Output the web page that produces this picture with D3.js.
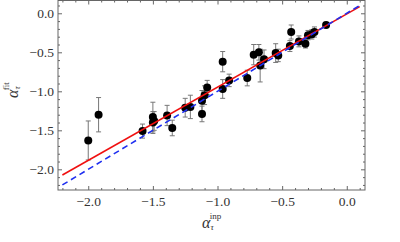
<!DOCTYPE html>
<html>
<head>
<script src="https://cdnjs.cloudflare.com/ajax/libs/d3/7.8.5/d3.min.js"></script>
<style>
  body { margin: 0; background: #fff; }
  svg { display: block; }
  .tick text { font-family: "Liberation Serif", "DejaVu Serif", serif; font-size: 13.5px; fill: #333; }
</style>
</head>
<body>
<svg id="chart" width="400" height="242"></svg>
<script>
// measured points: input alpha, fitted alpha, error
var alphaInp = [-2.00, -1.92, -1.58, -1.50, -1.50, -1.49, -1.39, -1.35, -1.25, -1.21, -1.12, -1.12, -1.10, -1.08,
                -0.96, -0.96, -0.91, -0.77, -0.72, -0.68, -0.67, -0.64, -0.55, -0.53, -0.44, -0.43, -0.37, -0.32,
                -0.30, -0.27, -0.25, -0.16];
var alphaFit = [-1.63, -1.30, -1.51, -1.33, -1.40, -1.38, -1.31, -1.47, -1.21, -1.20, -1.29, -1.12, -1.05, -0.95,
                -0.62, -0.97, -0.86, -0.83, -0.53, -0.50, -0.67, -0.59, -0.51, -0.54, -0.42, -0.24, -0.36, -0.39,
                -0.28, -0.27, -0.24, -0.15];
var alphaErr = [0.25, 0.22, 0.09, 0.19, 0.14, 0.12, 0.13, 0.10, 0.12, 0.15, 0.10, 0.13, 0.12, 0.09,
                0.13, 0.12, 0.08, 0.10, 0.13, 0.10, 0.21, 0.12, 0.12, 0.08, 0.07, 0.09, 0.07, 0.055,
                0.06, 0.06, 0.065, 0.03];
// fitted line and identity line (end points)
var lineX = [-2.2, 0.1];
var fitLineY = [-2.073, 0.085];
var idLineY = [-2.2, 0.1];
var majorTicks = [-2.0, -1.5, -1.0, -0.5, 0.0];

var svg = d3.select("#chart");
var x = d3.scaleLinear().domain([-2.234, 0.141]).range([58, 365]);
var y = d3.scaleLinear().domain([-2.265, 0.164]).range([190, 0.5]);

var minorTicks = d3.range(-22, 2).map(function(d) { return d / 10; })
  .filter(function(d) { return Math.abs(d * 2 - Math.round(d * 2)) > 1e-6; });

function axisStyle(g) {
  g.select(".domain").remove();
  g.selectAll(".tick line").attr("stroke", "#666");
}

// major ticks with labels
svg.append("g").attr("transform", "translate(0,190)")
  .call(d3.axisBottom(x).tickValues(majorTicks).tickFormat(d3.format(".1f")).tickSize(-4).tickPadding(6))
  .call(axisStyle);
svg.append("g").attr("transform", "translate(58,0)")
  .call(d3.axisLeft(y).tickValues(majorTicks).tickFormat(d3.format(".1f")).tickSize(-4).tickPadding(4))
  .call(axisStyle);
svg.append("g").attr("transform", "translate(0,0.5)")
  .call(d3.axisTop(x).tickValues(majorTicks).tickFormat("").tickSize(-4))
  .call(axisStyle);
svg.append("g").attr("transform", "translate(365,0)")
  .call(d3.axisRight(y).tickValues(majorTicks).tickFormat("").tickSize(-4))
  .call(axisStyle);
// minor ticks
svg.append("g").attr("transform", "translate(0,190)")
  .call(d3.axisBottom(x).tickValues(minorTicks.filter(function(d) { return d > -2.23; })).tickFormat("").tickSize(-2))
  .call(axisStyle);
svg.append("g").attr("transform", "translate(0,0.5)")
  .call(d3.axisTop(x).tickValues(minorTicks.filter(function(d) { return d > -2.23; })).tickFormat("").tickSize(-2))
  .call(axisStyle);
svg.append("g").attr("transform", "translate(58,0)")
  .call(d3.axisLeft(y).tickValues(minorTicks).tickFormat("").tickSize(-2))
  .call(axisStyle);
svg.append("g").attr("transform", "translate(365,0)")
  .call(d3.axisRight(y).tickValues(minorTicks).tickFormat("").tickSize(-2))
  .call(axisStyle);

// frame
svg.append("rect")
  .attr("x", 58).attr("y", 0.5).attr("width", 307).attr("height", 189.5)
  .attr("fill", "none").attr("stroke", "#666").attr("stroke-width", 1);

// error bars
var eb = svg.append("g").attr("stroke", "#777").attr("stroke-width", 1);
alphaInp.forEach(function(v, i) {
  var cx = x(v), top = y(alphaFit[i] + alphaErr[i]), bot = y(alphaFit[i] - alphaErr[i]);
  eb.append("line").attr("x1", cx).attr("x2", cx).attr("y1", top).attr("y2", bot);
  eb.append("line").attr("x1", cx - 2.5).attr("x2", cx + 2.5).attr("y1", top).attr("y2", top);
  eb.append("line").attr("x1", cx - 2.5).attr("x2", cx + 2.5).attr("y1", bot).attr("y2", bot);
});

// points
svg.append("g").selectAll("circle")
  .data(alphaInp)
  .enter().append("circle")
  .attr("cx", function(d) { return x(d); })
  .attr("cy", function(d, i) { return y(alphaFit[i]); })
  .attr("r", 4)
  .attr("fill", "#000");

// lines
var line = d3.line().x(function(d) { return x(d[0]); }).y(function(d) { return y(d[1]); });
svg.append("path")
  .attr("d", line(d3.zip(lineX, fitLineY)))
  .attr("stroke", "#f01010").attr("stroke-width", 1.6).attr("fill", "none");
svg.append("path")
  .attr("d", line(d3.zip(lineX, idLineY)))
  .attr("stroke", "#1f2ff0").attr("stroke-width", 1.6).attr("stroke-dasharray", "6,4").attr("fill", "none");

// axis labels
var xl = svg.append("text")
  .attr("x", 202).attr("y", 228)
  .attr("font-family", "Liberation Serif, serif").attr("fill", "#333");
xl.append("tspan").attr("font-style", "italic").attr("font-size", 16).text("α");
xl.append("tspan").attr("font-style", "italic").attr("font-size", 9).attr("dy", 2).text("τ");
xl.append("tspan").attr("font-size", 9).attr("dx", -4).attr("dy", -11).text("inp");

var yl = svg.append("text")
  .attr("transform", "translate(18,98) rotate(-90)")
  .attr("font-family", "Liberation Serif, serif").attr("fill", "#333");
yl.append("tspan").attr("font-style", "italic").attr("font-size", 16).text("α");
yl.append("tspan").attr("font-style", "italic").attr("font-size", 9).attr("dy", 2).text("τ");
yl.append("tspan").attr("font-size", 9).attr("dx", -4).attr("dy", -11).text("fit");
</script>
</body>
</html>
